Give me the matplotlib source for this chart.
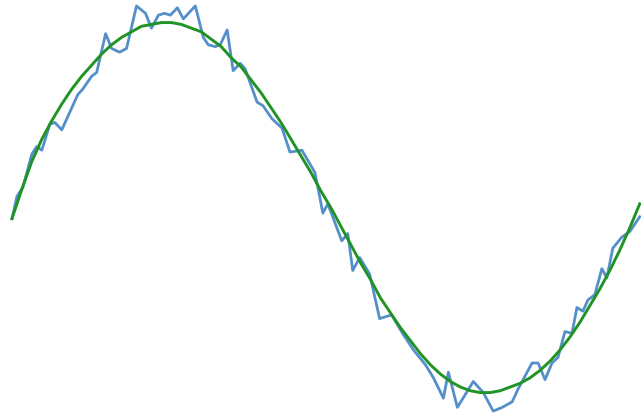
import matplotlib
matplotlib.use("Agg")
import matplotlib.pyplot as plt

# noisy samples (blue)
x_noisy = [0.00, 0.05, 0.11, 0.20, 0.25, 0.30, 0.38, 0.43, 0.50, 0.66,
           0.71, 0.80, 0.85, 0.94, 1.00, 1.08, 1.15, 1.25, 1.34, 1.40,
           1.47, 1.53, 1.59, 1.66, 1.72, 1.84, 1.92, 1.97, 2.04, 2.09,
           2.16, 2.22, 2.29, 2.34, 2.46, 2.52, 2.61, 2.71, 2.79, 2.91,
           3.04, 3.07, 3.12, 3.17, 3.24, 3.31, 3.37, 3.42, 3.49, 3.59,
           3.69, 3.81, 3.92, 4.03, 4.15, 4.23, 4.33, 4.38, 4.47, 4.63,
           4.73, 4.83, 4.92, 5.02, 5.08, 5.22, 5.28, 5.35, 5.42, 5.48,
           5.55, 5.62, 5.67, 5.73, 5.78, 5.85, 5.92, 5.97, 6.03, 6.12,
           6.20, 6.25, 6.30]
y_noisy = [-0.06, 0.06, 0.11, 0.29, 0.33, 0.31, 0.45, 0.46, 0.42, 0.61,
           0.64, 0.71, 0.73, 0.94, 0.86, 0.84, 0.86, 1.09, 1.05, 0.97,
           1.04, 1.05, 1.04, 1.08, 1.02, 1.09, 0.92, 0.88, 0.87, 0.88,
           0.96, 0.74, 0.78, 0.75, 0.57, 0.55, 0.48, 0.43, 0.30, 0.31,
           0.19, 0.11, -0.03, 0.02, -0.08, -0.18, -0.14, -0.34, -0.27, -0.36,
           -0.60, -0.58, -0.68, -0.77, -0.85, -0.92, -1.03, -0.89, -1.08, -0.94,
           -1.00, -1.10, -1.08, -1.05, -0.98, -0.84, -0.84, -0.93, -0.84, -0.81,
           -0.67, -0.68, -0.54, -0.56, -0.50, -0.47, -0.33, -0.38, -0.22, -0.16,
           -0.13, -0.09, -0.05]

# fitted curve (green)
x_fit = [0.0, 0.1, 0.2, 0.3, 0.4, 0.5, 0.6, 0.7, 0.8, 0.9,
         1.0, 1.1, 1.2, 1.3, 1.4, 1.5, 1.6, 1.7, 1.8, 1.9,
         2.0, 2.1, 2.2, 2.3, 2.4, 2.5, 2.6, 2.7, 2.8, 2.9,
         3.0, 3.1, 3.2, 3.3, 3.4, 3.5, 3.6, 3.7, 3.8, 3.9,
         4.0, 4.1, 4.2, 4.3, 4.4, 4.5, 4.6, 4.7, 4.8, 4.9,
         5.0, 5.1, 5.2, 5.3, 5.4, 5.5, 5.6, 5.7, 5.8, 5.9,
         6.0, 6.1, 6.2, 6.3]
y_fit = [-0.06, 0.10, 0.25, 0.37, 0.47, 0.56, 0.64, 0.71, 0.77, 0.83,
         0.88, 0.92, 0.95, 0.98, 0.99, 1.00, 1.00, 0.99, 0.97, 0.95,
         0.91, 0.87, 0.81, 0.76, 0.69, 0.62, 0.54, 0.46, 0.37, 0.28,
         0.19, 0.09, 0.00, -0.10, -0.20, -0.30, -0.39, -0.49, -0.57, -0.65,
         -0.72, -0.79, -0.85, -0.90, -0.94, -0.97, -0.99, -1.00, -1.00, -0.99,
         -0.97, -0.95, -0.92, -0.88, -0.83, -0.77, -0.70, -0.62, -0.53, -0.44,
         -0.34, -0.23, -0.11, 0.02]

fig = plt.figure(figsize=(6.41, 4.17), dpi=100)
ax = fig.add_axes([0, 0, 1, 1])
ax.plot(x_noisy, y_noisy, color="#4283c4", linewidth=2.0, alpha=0.9)
ax.plot(x_fit, y_fit, color="#1f9424", linewidth=2.1)
ax.set_xlim(-0.12, 6.313)
ax.set_ylim(-1.132, 1.122)
ax.axis("off")
fig.savefig("out.png", dpi=100)
